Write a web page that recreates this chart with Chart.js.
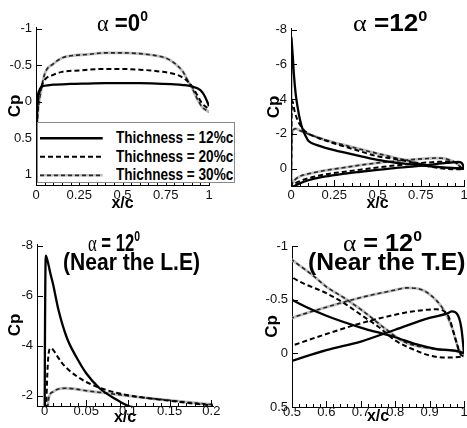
<!DOCTYPE html>
<html><head><meta charset="utf-8">
<script src="https://cdn.jsdelivr.net/npm/chart.js@4.4.1/dist/chart.umd.min.js"></script>
<style>
html,body{margin:0;padding:0;background:#fff;}
#wrap{position:relative;width:467px;height:428px;overflow:hidden;background:#fff;}
canvas{position:absolute;}
.ttl{position:absolute;white-space:nowrap;font-family:"Liberation Sans",Arial,sans-serif;font-weight:bold;font-size:24px;line-height:24px;color:#000;transform-origin:left top;}
.ttl .al{font-family:"Liberation Serif","DejaVu Serif",serif;font-weight:normal;}
.ttl .sp{font-size:15px;position:relative;top:-10px;}
#legend{position:absolute;left:37px;top:122px;width:198px;height:61px;border:1px solid #888;background:#fff;box-sizing:border-box;}
#legend svg{position:absolute;left:0;top:0;}
.lt{position:absolute;white-space:nowrap;font-family:"Liberation Sans",Arial,sans-serif;font-weight:bold;font-size:16px;line-height:16px;color:#000;transform-origin:left top;}
</style></head>
<body><div id="wrap">
<canvas id="cTL" width="240" height="214" style="left:0;top:0"></canvas>
<canvas id="cTR" width="230" height="214" style="left:250px;top:0"></canvas>
<canvas id="cBL" width="240" height="213" style="left:0;top:215px"></canvas>
<canvas id="cBR" width="230" height="213" style="left:250px;top:215px"></canvas>

<div class="ttl" data-x0="97" data-x1="148" data-base="31.5"><span class="al">α</span> =0<span class="sp">0</span></div>
<div class="ttl" data-x0="353" data-x1="427" data-base="31.7"><span class="al">α</span> =12<span class="sp">0</span></div>
<div class="ttl" data-x0="88" data-x1="140" data-base="251.7"><span class="al">α</span> = 12<span class="sp">0</span></div>
<div class="ttl" data-x0="63" data-x1="200" data-base="270">(Near the L.E)</div>
<div class="ttl" data-x0="343" data-x1="422" data-base="251.7"><span class="al">α</span> = 12<span class="sp">0</span></div>
<div class="ttl" data-x0="308" data-x1="465" data-base="270">(Near the T.E)</div>

<div id="legend">
<svg width="198" height="61">
 <line x1="2" y1="15.3" x2="64.7" y2="15.3" stroke="#000" stroke-width="2.6"/>
 <line x1="2" y1="33.7" x2="64.7" y2="33.7" stroke="#000" stroke-width="2" stroke-dasharray="5,3"/>
 <line x1="2" y1="52.3" x2="64.7" y2="52.3" stroke="#bdbdbd" stroke-width="2.6"/>
 <line x1="2" y1="52.3" x2="64.7" y2="52.3" stroke="#262626" stroke-width="1.8" stroke-dasharray="4,3"/>
</svg>
<div class="lt" data-x0="78" data-x1="195" style="top:7px">Thichness = 12%c</div>
<div class="lt" data-x0="78" data-x1="195" style="top:26px">Thichness = 20%c</div>
<div class="lt" data-x0="78" data-x1="195" style="top:44px">Thichness = 30%c</div>
</div>
</div>
<script>
// ---------------- DATA ----------------
// alpha = 0 deg (upper = lower surface), x/c and Cp
const a0X12  = [0, 0.002, 0.005, 0.01, 0.02, 0.03, 0.05, 0.1, 0.2, 0.3, 0.4, 0.5, 0.6, 0.7, 0.8, 0.85, 0.9, 0.95, 0.97, 0.99, 1.0];
const a0Cp12 = [1.0, 0.6, 0.2, -0.05, -0.16, -0.2, -0.22, -0.235, -0.245, -0.25, -0.255, -0.255, -0.255, -0.25, -0.24, -0.23, -0.21, -0.16, -0.1, 0.0, 0.06];
const a0X20  = [0, 0.003, 0.008, 0.015, 0.03, 0.05, 0.1, 0.15, 0.25, 0.4, 0.5, 0.6, 0.7, 0.8, 0.85, 0.9, 0.93, 0.96, 1.0];
const a0Cp20 = [1.0, 0.55, 0.15, -0.05, -0.2, -0.3, -0.37, -0.41, -0.43, -0.45, -0.45, -0.44, -0.42, -0.38, -0.33, -0.22, -0.1, 0.02, 0.1];
const a0X30  = [0, 0.003, 0.008, 0.015, 0.025, 0.05, 0.1, 0.15, 0.2, 0.3, 0.4, 0.5, 0.6, 0.7, 0.75, 0.8, 0.85, 0.88, 0.9, 0.93, 0.96, 1.0];
const a0Cp30 = [1.0, 0.6, 0.25, 0.05, -0.1, -0.38, -0.52, -0.6, -0.63, -0.65, -0.67, -0.67, -0.66, -0.63, -0.6, -0.53, -0.41, -0.28, -0.2, -0.05, 0.07, 0.14];

// alpha = 12 deg, upper surface
const upX12  = [0, 0.0005, 0.0015, 0.004, 0.007, 0.01, 0.017, 0.027, 0.039, 0.05, 0.066, 0.086, 0.1, 0.125, 0.15, 0.2, 0.25, 0.3, 0.4, 0.5, 0.6, 0.7, 0.8, 0.86, 0.92, 0.98, 1.0];
const upCp12 = [0.5, -4.0, -7.6, -7.35, -6.9, -6.5, -5.4, -4.3, -3.5, -2.9, -2.3, -1.85, -1.6, -1.45, -1.35, -1.2, -1.07, -0.95, -0.72, -0.5, -0.35, -0.24, -0.15, -0.085, -0.04, -0.02, 0.0];
const upX20  = [0, 0.002, 0.004, 0.007, 0.01, 0.015, 0.02, 0.03, 0.04, 0.05, 0.06, 0.075, 0.1, 0.125, 0.15, 0.175, 0.2, 0.25, 0.3, 0.4, 0.5, 0.6, 0.65, 0.7, 0.75, 0.8, 0.85, 0.9, 0.95, 1.0];
const upCp20 = [0.8, -1.5, -3.3, -3.9, -3.85, -3.6, -3.35, -3.0, -2.75, -2.55, -2.4, -2.22, -2.02, -1.9, -1.8, -1.7, -1.62, -1.45, -1.3, -1.0, -0.71, -0.56, -0.47, -0.36, -0.25, -0.12, -0.04, 0.02, 0.04, 0.03];
const upX30  = [0, 0.002, 0.005, 0.01, 0.015, 0.025, 0.035, 0.05, 0.075, 0.1, 0.125, 0.15, 0.175, 0.2, 0.25, 0.3, 0.4, 0.5, 0.563, 0.6, 0.65, 0.708, 0.775, 0.824, 0.862, 0.92, 0.978, 1.0];
const upCp30 = [1.0, -0.5, -1.9, -2.15, -2.25, -2.3, -2.28, -2.2, -2.1, -2.0, -1.9, -1.82, -1.73, -1.65, -1.5, -1.38, -1.12, -0.87, -0.72, -0.62, -0.52, -0.39, -0.22, -0.11, -0.07, -0.04, -0.02, 0.0];
// alpha = 12 deg, lower surface
const loX12  = [0, 0.003, 0.01, 0.02, 0.05, 0.1, 0.2, 0.3, 0.4, 0.5, 0.6, 0.7, 0.8, 0.9, 0.95, 0.965, 0.983, 0.993, 1.0];
const loCp12 = [0.5, 0.95, 1.02, 1.0, 0.85, 0.67, 0.45, 0.3, 0.18, 0.07, -0.03, -0.11, -0.22, -0.33, -0.37, -0.39, -0.35, -0.22, 0.0];
const loX20  = [0, 0.005, 0.02, 0.05, 0.1, 0.2, 0.3, 0.4, 0.5, 0.6, 0.7, 0.8, 0.85, 0.92, 0.954, 0.973, 0.988, 1.0];
const loCp20 = [0.8, 1.0, 0.88, 0.72, 0.55, 0.33, 0.19, 0.06, -0.07, -0.18, -0.28, -0.36, -0.39, -0.41, -0.35, -0.16, 0.0, 0.03];
const loX30  = [0, 0.01, 0.03, 0.05, 0.1, 0.2, 0.3, 0.4, 0.5, 0.6, 0.7, 0.8, 0.833, 0.87, 0.9, 0.94, 0.964, 0.978, 0.988, 1.0];
const loCp30 = [1.0, 0.8, 0.58, 0.45, 0.3, 0.1, -0.05, -0.2, -0.33, -0.43, -0.52, -0.59, -0.61, -0.6, -0.55, -0.41, -0.25, -0.1, -0.02, 0.0];

// tick labels
const tlXTicks = [0, 0.25, 0.5, 0.75, 1];
const tlYTicks = [-1, -0.5, 0, 0.5, 1];
const trXTicks = [0, 0.25, 0.5, 0.75, 1];
const trYTicks = [-8, -6, -4, -2, 0];
const blXTicks = [0, 0.05, 0.1, 0.15, 0.2];
const blYTicks = [-8, -6, -4, -2];
const brXTicks = [0.5, 0.6, 0.7, 0.8, 0.9, 1];
const brYTicks = [-1, -0.5, 0, 0.5];

// ---------------- HELPERS ----------------
const FONT = "'Liberation Sans', Arial, sans-serif";
const pts = (xs, ys) => xs.map((x, i) => ({x: x, y: ys[i]}));
const steps = (a, b, s) => { const r = []; for (let k = 0; a + k * s <= b + 1e-9; k++) r.push(+(a + k * s).toFixed(6)); return r; };

// NB: Chart.js paints dataset 0 last (on top), so the list order is top -> bottom
function styleSolid(xs, ys)   { return {data: pts(xs, ys), borderColor: '#000', borderWidth: 2.3}; }
function styleDash(xs, ys)    { return {data: pts(xs, ys), borderColor: '#000', borderWidth: 2, borderDash: [5, 3]}; }
function styleGray(xs, ys)    { return {data: pts(xs, ys), borderColor: '#bdbdbd', borderWidth: 2.8}; }
function styleGrayDash(xs, ys){ return {data: pts(xs, ys), borderColor: '#262626', borderWidth: 1.6, borderDash: [4, 3]}; }

function a0Sets() {
  return [styleSolid(a0X12, a0Cp12), styleDash(a0X20, a0Cp20), styleGrayDash(a0X30, a0Cp30), styleGray(a0X30, a0Cp30)];
}
function a12Sets() {
  return [styleSolid(upX12, upCp12), styleSolid(loX12, loCp12),
          styleDash(upX20, upCp20), styleDash(loX20, loCp20),
          styleGrayDash(upX30, upCp30), styleGrayDash(loX30, loCp30),
          styleGray(upX30, upCp30), styleGray(loX30, loCp30)];
}

function innerTicks(xMajor, xMinor, yMajor, yMinor) {
  return {
    id: 'innerTicks',
    afterDatasetsDraw(chart) {
      const {ctx, chartArea: a, scales} = chart;
      const sx = scales.x, sy = scales.y;
      ctx.save();
      ctx.strokeStyle = '#000'; ctx.lineWidth = 1;
      ctx.beginPath();
      const vx = (v, len) => { const p = Math.round(sx.getPixelForValue(v)) + 0.5; ctx.moveTo(p, a.bottom); ctx.lineTo(p, a.bottom - len); };
      const vy = (v, len) => { const p = Math.round(sy.getPixelForValue(v)) + 0.5; ctx.moveTo(a.left, p); ctx.lineTo(a.left + len, p); };
      xMinor.forEach(v => vx(v, 3)); xMajor.forEach(v => vx(v, 6));
      yMinor.forEach(v => vy(v, 3)); yMajor.forEach(v => vy(v, 6));
      ctx.stroke(); ctx.restore();
    }
  };
}

function makeChart(id, c) {
  return new Chart(document.getElementById(id), {
    type: 'line',
    data: {datasets: c.datasets.map(d => Object.assign({pointRadius: 0, fill: false, cubicInterpolationMode: 'monotone', borderJoinStyle: 'round'}, d))},
    options: {
      responsive: false, animation: false, events: [],
      layout: {padding: {top: c.padTop, right: c.padRight, left: 0, bottom: 0}},
      elements: {line: {capBezierPoints: false}},
      plugins: {legend: {display: false}, tooltip: {enabled: false}},
      scales: {
        x: {
          type: 'linear', min: c.xMin, max: c.xMax,
          afterBuildTicks: s => { s.ticks = c.xTicks.map(v => ({value: v})); },
          afterFit: s => { s.height = c.xH; },
          grid: {display: false, drawTicks: false}, border: {display: true, color: '#000', width: 1},
          ticks: {autoSkip: false, maxRotation: 0, padding: c.xTickPad, color: '#111', font: {family: FONT, size: 13}, callback: v => String(v)},
          title: {display: true, text: 'x/c', color: '#000', font: {family: FONT, size: 16, weight: 'bold'}, padding: {top: 0, bottom: c.xTitlePad}}
        },
        y: {
          type: 'linear', reverse: true, min: c.yMin, max: c.yMax,
          afterBuildTicks: s => { s.ticks = c.yTicks.map(v => ({value: v})); },
          afterFit: s => { s.width = c.yW; },
          grid: {display: false, drawTicks: false}, border: {display: true, color: '#000', width: 1},
          ticks: {autoSkip: false, padding: 4, color: '#111', font: {family: FONT, size: 13}, callback: v => String(v)},
          title: {display: true, text: 'Cp', color: '#000', font: {family: FONT, size: 17, weight: 'bold'}, padding: {top: c.yTitlePad, bottom: 0}}
        }
      }
    },
    plugins: [innerTicks(c.xTicks, c.xMinor, c.yTicks, c.yMinor)]
  });
}

makeChart('cTL', {datasets: a0Sets(), xMin: 0, xMax: 1, yMin: -1.025, yMax: 1.14,
  xTicks: tlXTicks, yTicks: tlYTicks, xMinor: steps(0, 1, 0.05), yMinor: [],
  padTop: 27, padRight: 31, yW: 36, xH: 29, xTickPad: 3, xTitlePad: 1, yTitlePad: 5.5});
makeChart('cTR', {datasets: a12Sets(), xMin: 0, xMax: 1, yMin: -8.1, yMax: 1.0,
  xTicks: trXTicks, yTicks: trYTicks, xMinor: steps(0, 1, 0.05), yMinor: [],
  padTop: 28, padRight: 16, yW: 41, xH: 28, xTickPad: 2, xTitlePad: 1, yTitlePad: 14});
makeChart('cBL', {datasets: a12Sets(), xMin: -0.009, xMax: 0.202, yMin: -8.07, yMax: -1.59,
  xTicks: blXTicks, yTicks: blYTicks, xMinor: steps(0, 0.2, 0.01), yMinor: [],
  padTop: 29, padRight: 27, yW: 37, xH: 22, xTickPad: -2, xTitlePad: 1, yTitlePad: 5.5});
makeChart('cBR', {datasets: a12Sets(), xMin: 0.5, xMax: 1.0, yMin: -1.0, yMax: 0.5,
  xTicks: brXTicks, yTicks: brYTicks, xMinor: steps(0.5, 1, 0.02), yMinor: [],
  padTop: 31, padRight: 16, yW: 42, xH: 21, xTickPad: -2, xTitlePad: 2, yTitlePad: 12.5});

// fit titles / legend text to their measured extents
document.querySelectorAll('.ttl').forEach(el => {
  const x0 = +el.dataset.x0, x1 = +el.dataset.x1, base = +el.dataset.base;
  el.style.left = x0 + 'px';
  el.style.top = (base - 20.5) + 'px';
  const w = el.offsetWidth;
  el.style.transform = 'scaleX(' + ((x1 - x0) / w).toFixed(3) + ')';
});
document.querySelectorAll('.lt').forEach(el => {
  const x0 = +el.dataset.x0, x1 = +el.dataset.x1;
  el.style.left = x0 + 'px';
  const w = el.offsetWidth;
  el.style.transform = 'scaleX(' + ((x1 - x0) / w).toFixed(3) + ')';
});
</script>
</body></html>
